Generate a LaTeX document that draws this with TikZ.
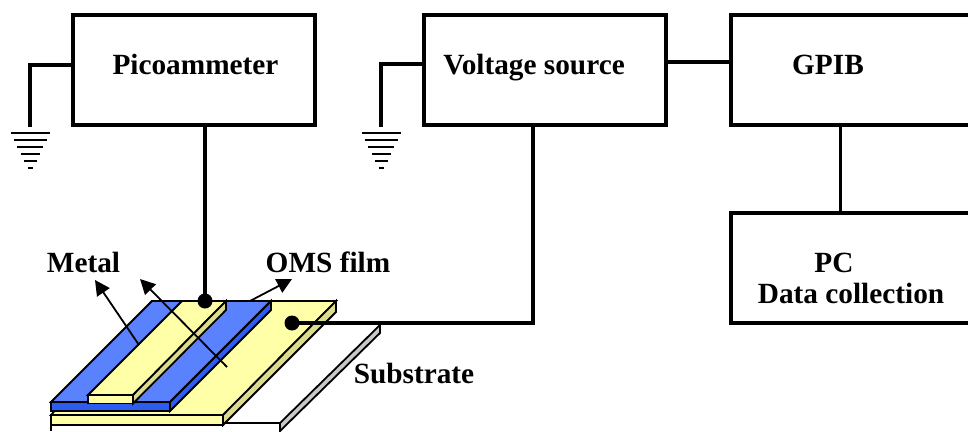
\documentclass[tikz,border=0pt]{standalone}
\usepackage{fontspec}
\setmainfont{Liberation Serif}
\usetikzlibrary{arrows.meta}
\definecolor{metalY}{HTML}{FFFFA8}
\definecolor{sideY}{HTML}{DCDC8C}
\definecolor{blueT}{HTML}{5A82FF}
\definecolor{blueF}{HTML}{2E5CF0}
\definecolor{grayS}{HTML}{C8C8C8}
\tikzset{
  box/.style={draw,line width=3.4pt,minimum width=#1,minimum height=110pt,inner sep=0pt,outer sep=0pt,anchor=north west},
  wire/.style={line width=3.4pt},
  lbl/.style={font=\fontsize{29.3}{32}\selectfont\bfseries,inner sep=0pt,anchor=base},
  face/.style={draw,line width=1.8pt,line join=miter},
  ptr/.style={line width=1.8pt,-{Triangle[length=15pt,width=15pt]}},
  gbar/.style={line width=2pt},
  dot/.style={circle,fill=black,minimum size=15pt,inner sep=0pt}
}
\begin{document}
\begin{tikzpicture}[x=1pt,y=-1pt]
\useasboundingbox (0,0) rectangle (968,431);
\clip (0,0) rectangle (968,431);
% boxes
\node[box=242pt] (pico) at (73,15) {};
\node[box=242pt] (volt) at (424,15) {};
\node[box=250pt] (gpib) at (731,15) {};
\node[box=250pt] (pc) at (731,213) {};
\node[lbl] (tpico) at (195.5,74.5) {Picoammeter};
\node[lbl] (tvolt) at (534,74.5) {Voltage source};
\node[lbl] (tgpib) at (828,74.5) {GPIB};
\node[lbl] (tpc) at (834,272) {PC};
\node[lbl] (tdata) at (851,303) {Data collection};
\node[lbl] (tmetal) at (83.5,272.5) {Metal};
\node[lbl] (toms) at (328,272.5) {OMS film};
\node[lbl] (tsub) at (414,383) {Substrate};
% substrate
\fill[white] (51,423) rectangle (280,431);
\draw[face] (51,425) -- (51,431);
\draw[face] (223,423) -- (280,423) -- (280,431);
\filldraw[face,fill=grayS] (380,325) -- (380,333) -- (280,431) -- (280,423) -- cycle;
% OMS film
\filldraw[face,fill=metalY] (152,301) -- (336,301) -- (223,415) -- (51,415) -- cycle;
\filldraw[face,fill=metalY] (51,415) rectangle (223,425);
\filldraw[face,fill=sideY] (336,301) -- (336,312) -- (223,425) -- (223,415) -- cycle;
% blue layer
\filldraw[face,fill=blueT] (152,301) -- (271,301) -- (170,402) -- (51,402) -- cycle;
\filldraw[face,fill=blueF] (51,402) rectangle (170,411);
\filldraw[face,fill=blueF] (271,301) -- (271,310) -- (170,411) -- (170,402) -- cycle;
% top electrode
\filldraw[face,fill=metalY] (182,301) -- (226,301) -- (133,395) -- (88,395) -- cycle;
\filldraw[face,fill=metalY] (88,395) rectangle (133,403.5);
\filldraw[face,fill=sideY] (226,301) -- (226,310) -- (133,403.5) -- (133,395) -- cycle;
% pointers
\coordinate (p1) at (139,345);
\coordinate (h1) at (95,280);
\coordinate (p2) at (227,367);
\coordinate (h2) at (140,279);
\coordinate (p3) at (250,301);
\coordinate (h3) at (292,279);
\draw[ptr] (p1) -- (h1);
\draw[ptr] (p2) -- (h2);
\draw[ptr] (p3) -- (h3);
% contacts and wires
\node[dot] (d1) at (205,301) {};
\node[dot] (d2) at (292,323) {};
\draw[wire] (d1.center) -- (d1.center |- pico.south);
\draw[wire] (d2.center) -- (533,323) -- (533,125);
\draw[wire] (volt.east |- 0,62) -- (gpib.west |- 0,62);
\draw[wire] (840.5,125) -- (840.5,213);
% grounds
\foreach \n/\gx in {a/30,b/381}{
  \coordinate (g\n) at (\gx,127);
  \draw[gbar] (\gx-19.5,133) -- (\gx+19.5,133);
  \draw[gbar] (\gx-16.5,139.5) -- (\gx+16.5,139.5);
  \draw[gbar] (\gx-13,146.5) -- (\gx+13,146.5);
  \draw[gbar] (\gx-9.5,153.5) -- (\gx+9.5,153.5);
  \draw[gbar] (\gx-6.5,160.5) -- (\gx+6.5,160.5);
  \draw[gbar] (\gx-2.5,167.5) -- (\gx+2.5,167.5);
}
\draw[wire] (pico.west |- 0,65) -- (30,65) -- (ga);
\draw[wire] (volt.west |- 0,64) -- (381,64) -- (gb);
\end{tikzpicture}
\end{document}
